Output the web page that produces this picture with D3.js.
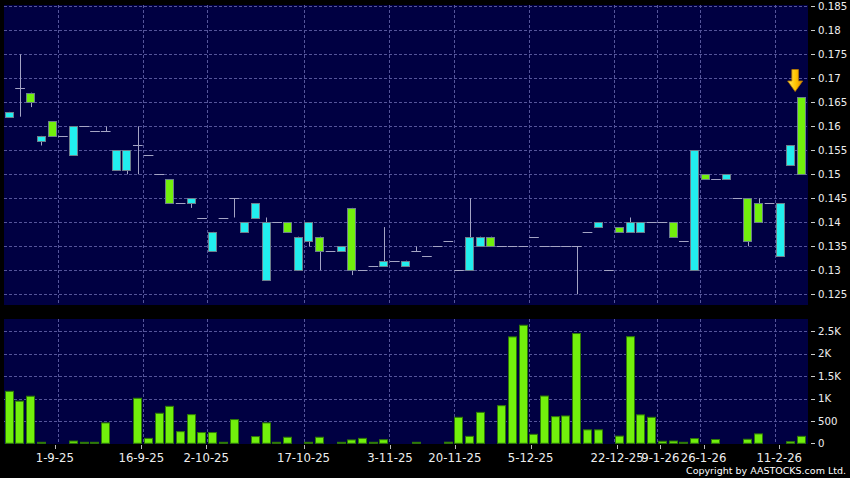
<!DOCTYPE html>
<html><head><meta charset="utf-8">
<script src="https://cdn.jsdelivr.net/npm/d3@7/dist/d3.min.js"></script>
<style>html,body{margin:0;padding:0;background:#000;}svg{display:block;}</style>
</head><body>
<svg id="chart" width="850" height="478"></svg>
<script>
// ---- data ----
const opens  = [0.163,0.168,0.165,0.158,0.158,0.158,0.160,0.160,0.159,0.159,
                0.155,0.155,0.156,0.154,0.150,0.144,0.144,0.145,0.141,0.138,
                0.141,0.145,0.140,0.144,0.140,0.140,0.138,0.137,0.140,0.134,
                0.134,0.135,0.130,0.130,0.131,0.132,0.132,0.132,0.134,0.133,
                0.135,0.136,0.130,0.137,0.137,0.135,0.135,0.135,0.135,0.137,
                0.135,0.135,0.135,0.135,0.138,0.140,0.130,0.138,0.140,0.140,
                0.140,0.140,0.137,0.136,0.155,0.149,0.149,0.150,0.145,0.136,
                0.140,0.144,0.144,0.156,0.150];
const highs  = [0.163,0.175,0.167,0.158,0.161,0.158,0.160,0.160,0.159,0.160,
                0.155,0.155,0.160,0.154,0.150,0.149,0.144,0.145,0.141,0.138,
                0.141,0.145,0.140,0.144,0.141,0.140,0.140,0.137,0.140,0.137,
                0.134,0.135,0.143,0.130,0.131,0.139,0.132,0.132,0.135,0.133,
                0.135,0.136,0.130,0.145,0.137,0.137,0.135,0.135,0.135,0.137,
                0.135,0.135,0.135,0.135,0.138,0.140,0.130,0.139,0.141,0.140,
                0.140,0.140,0.140,0.136,0.155,0.150,0.149,0.150,0.145,0.145,
                0.145,0.144,0.144,0.156,0.166];
const lows   = [0.162,0.162,0.164,0.156,0.158,0.158,0.154,0.160,0.159,0.159,
                0.151,0.150,0.150,0.154,0.150,0.144,0.144,0.143,0.141,0.134,
                0.141,0.141,0.138,0.141,0.128,0.140,0.138,0.130,0.135,0.130,
                0.134,0.134,0.129,0.130,0.131,0.131,0.132,0.131,0.134,0.133,
                0.135,0.136,0.130,0.130,0.135,0.135,0.135,0.135,0.135,0.137,
                0.135,0.135,0.135,0.125,0.138,0.139,0.130,0.138,0.138,0.138,
                0.140,0.140,0.137,0.136,0.130,0.149,0.149,0.149,0.145,0.135,
                0.140,0.144,0.133,0.152,0.150];
const closes = [0.162,0.168,0.167,0.157,0.161,0.158,0.154,0.160,0.159,0.159,
                0.151,0.151,0.156,0.154,0.150,0.149,0.144,0.144,0.141,0.134,
                0.141,0.145,0.138,0.141,0.128,0.140,0.140,0.130,0.136,0.137,
                0.134,0.134,0.143,0.130,0.131,0.131,0.132,0.131,0.134,0.133,
                0.135,0.136,0.130,0.130,0.135,0.137,0.135,0.135,0.135,0.137,
                0.135,0.135,0.135,0.135,0.138,0.139,0.130,0.139,0.138,0.138,
                0.140,0.140,0.140,0.136,0.130,0.150,0.149,0.149,0.145,0.145,
                0.144,0.144,0.133,0.152,0.166];
const volumes = [1160,940,1050,20,0,0,50,5,5,455,
                 0,0,1005,110,670,825,260,640,240,240,
                 20,530,0,150,455,5,135,0,20,135,
                 0,5,75,110,5,80,0,0,5,0,
                 0,25,580,155,690,0,840,2375,2635,200,
                 1055,595,610,2450,300,300,0,160,2380,635,
                 580,45,50,20,105,0,85,0,0,90,
                 210,0,0,35,155];
const tickIndex  = [5,13,19,28,36,42,49,57,61,65,72];
const tickLabels = ["1-9-25","16-9-25","2-10-25","17-10-25","3-11-25","20-11-25",
                    "5-12-25","22-12-25","9-1-26","26-1-26","11-2-26"];
const priceTicks  = [0.125,0.13,0.135,0.14,0.145,0.15,0.155,0.16,0.165,0.17,0.175,0.18,0.185];
const volumeTicks = [0,500,1000,1500,2000,2500];
const copyright = "Copyright by AASTOCKS.com Ltd.";

// ---- layout ----
const W = 850, H = 478;
const P = {left:4, right:808, top:5, bottom:305};
const V = {left:4, right:808, top:319, bottom:444};
const N = opens.length;
const UP = "#72f00c", DOWN = "#22eeee", BOXSTROKE = "#6c7f8c",
      WICK = "#a4a4c4", GRID = "#55559a", NAVY = "#000042", TXT = "#eeeeee";

const svg = d3.select("#chart");
svg.append("rect").attr("width",W).attr("height",H).attr("fill","#000");

const x = d3.scaleBand().domain(d3.range(N)).range([P.left, 807])
            .paddingInner(0.13).paddingOuter(0.065);
const edge = d3.scaleLinear().domain([0, N]).range([P.left, 807]);
const tickPos = d3.scaleLinear().domain([0, N]).range([0.75, 811.7]);
const y = d3.scaleLinear().domain([0.125, 0.185]).range([294.3, 6.3]);
const yv = d3.scaleLinear().domain([0, 2500]).range([443.3, 331.3]);

const defs = svg.append("defs");
const g = defs.append("linearGradient").attr("id","arrowGrad")
  .attr("x1","0").attr("y1","0").attr("x2","1").attr("y2","0");
g.append("stop").attr("offset","0%").attr("stop-color","#ffe85a");
g.append("stop").attr("offset","55%").attr("stop-color","#ffc400");
g.append("stop").attr("offset","100%").attr("stop-color","#e08a00");

// panels
svg.append("rect").attr("x",P.left).attr("y",P.top).attr("width",P.right-P.left)
   .attr("height",P.bottom-P.top).attr("fill",NAVY);
svg.append("rect").attr("x",V.left).attr("y",V.top).attr("width",V.right-V.left)
   .attr("height",V.bottom-V.top).attr("fill",NAVY);

// grids
const grid = svg.append("g").attr("stroke",GRID).attr("stroke-dasharray","3,2").attr("stroke-width",1);
grid.selectAll(".hp").data(priceTicks).join("line")
  .attr("x1",P.left).attr("x2",P.right).attr("y1",d=>Math.round(y(d))+0.5).attr("y2",d=>Math.round(y(d))+0.5);
grid.selectAll(".hv").data(volumeTicks.filter(d=>d>0)).join("line").attr("class","hv")
  .attr("x1",V.left).attr("x2",V.right).attr("y1",d=>Math.round(yv(d))+0.5).attr("y2",d=>Math.round(yv(d))+0.5);
grid.selectAll(".vp").data(tickIndex).join("line").attr("class","vp")
  .attr("x1",d=>Math.round(edge(d))+0.5).attr("x2",d=>Math.round(edge(d))+0.5)
  .attr("y1",P.top).attr("y2",P.bottom);
grid.selectAll(".vv").data(tickIndex).join("line").attr("class","vv")
  .attr("x1",d=>Math.round(edge(d))+0.5).attr("x2",d=>Math.round(edge(d))+0.5)
  .attr("y1",V.top).attr("y2",V.bottom);

// candles
const idx = d3.range(N);
const cx = i => Math.round(x(i) + x.bandwidth()/2) + 0.5;
const cg = svg.append("g");
cg.selectAll(".wick").data(idx.filter(i=>highs[i]>lows[i])).join("line")
  .attr("x1",cx).attr("x2",cx).attr("y1",i=>y(highs[i])).attr("y2",i=>y(lows[i]))
  .attr("stroke",WICK).attr("stroke-width",1);
cg.selectAll(".doji").data(idx.filter(i=>opens[i]===closes[i])).join("line")
  .attr("x1",i=>edge(i)+0.5).attr("x2",i=>edge(i+1)-0.5)
  .attr("y1",i=>Math.round(y(opens[i]))+0.5).attr("y2",i=>Math.round(y(opens[i]))+0.5)
  .attr("stroke",WICK).attr("stroke-width",1);
cg.selectAll(".box").data(idx.filter(i=>opens[i]!==closes[i])).join("rect")
  .attr("x",i=>Math.round(x(i))+0.5).attr("width",Math.round(x.bandwidth())-1)
  .attr("y",i=>Math.round(y(Math.max(opens[i],closes[i])))+0.5)
  .attr("height",i=>Math.max(1,Math.round(y(Math.min(opens[i],closes[i])))-Math.round(y(Math.max(opens[i],closes[i])))))
  .attr("fill",i=>closes[i]>opens[i]?UP:DOWN)
  .attr("stroke",BOXSTROKE).attr("stroke-width",1);

// arrow marker above latest candle
const last = N-1;
const ax = x(last) + x.bandwidth()/2 - 6.5, ay = y(highs[last]) - 6;
svg.append("path")
  .attr("d",`M${ax-3.3},${ay-22} L${ax+3.3},${ay-22} L${ax+3.3},${ay-10.5} L${ax+7.5},${ay-10.5} L${ax},${ay} L${ax-7.5},${ay-10.5} L${ax-3.3},${ay-10.5} Z`)
  .attr("fill","url(#arrowGrad)").attr("stroke","#b87800").attr("stroke-width",0.8);

// volume bars
svg.append("g").selectAll("rect").data(idx.filter(i=>volumes[i]>0)).join("rect")
  .attr("x",i=>Math.round(x(i))+0.5).attr("width",Math.round(x.bandwidth())-1)
  .attr("y",i=>Math.min(yv(volumes[i]), yv(0)-1))
  .attr("height",i=>Math.max(1, yv(0)-yv(volumes[i])))
  .attr("fill",UP).attr("stroke","#2f7a06").attr("stroke-width",1);

// y axes (right)
const font = "DejaVu Sans, Verdana, sans-serif";
const fmtP = d => String(+d.toFixed(3));
const fmtV = d => d===0 ? "0" : d<1000 ? String(d) : (d/1000)+"K";
const ya = svg.append("g");
ya.selectAll(".pt").data(priceTicks).join("line").attr("class","pt")
  .attr("x1",811).attr("x2",815).attr("y1",d=>Math.round(y(d))+0.5).attr("y2",d=>Math.round(y(d))+0.5)
  .attr("stroke","#cccccc");
ya.selectAll(".pl").data(priceTicks).join("text").attr("class","pl")
  .attr("x",818).attr("y",d=>y(d)+3.7).text(fmtP)
  .attr("fill",TXT).attr("font-family",font).attr("font-size","10.2px");
ya.selectAll(".vt").data(volumeTicks).join("line").attr("class","vt")
  .attr("x1",811).attr("x2",815).attr("y1",d=>Math.round(yv(d))+0.5).attr("y2",d=>Math.round(yv(d))+0.5)
  .attr("stroke","#cccccc");
ya.selectAll(".vl").data(volumeTicks).join("text").attr("class","vl")
  .attr("x",818).attr("y",d=>yv(d)+3.7).text(fmtV)
  .attr("fill",TXT).attr("font-family",font).attr("font-size","10.2px");

// x axis
const xa = svg.append("g");
xa.selectAll("line").data(tickIndex).join("line")
  .attr("x1",d=>Math.round(tickPos(d))+0.5).attr("x2",d=>Math.round(tickPos(d))+0.5)
  .attr("y1",445).attr("y2",449).attr("stroke","#bbbbbb");
xa.selectAll("text").data(tickIndex).join("text")
  .attr("x",d=>tickPos(d)).attr("y",462).attr("text-anchor","middle")
  .text((d,i)=>tickLabels[i])
  .attr("fill",TXT).attr("font-family",font).attr("font-size","11.7px");

svg.append("text").attr("x",846).attr("y",474).attr("text-anchor","end")
  .attr("fill","#ffffff").attr("font-family",font).attr("font-size","9.5px").text(copyright);
</script>
</body></html>
